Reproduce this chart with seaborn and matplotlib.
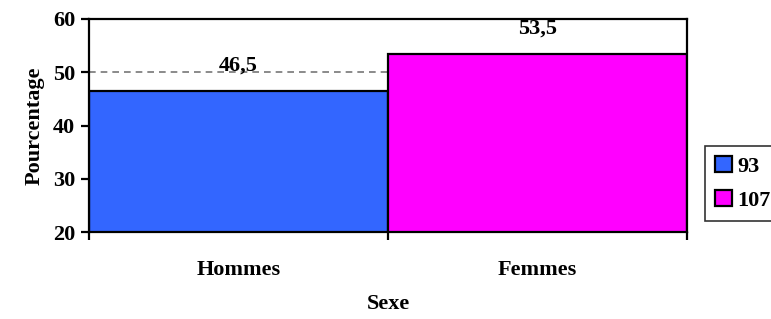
import matplotlib
matplotlib.use("Agg")
import matplotlib.pyplot as plt
import pandas as pd
import seaborn as sns

# data
sexe = ["Hommes", "Femmes"]
pourcentage = [46.5, 53.5]
effectif = ["93", "107"]
couleurs = ["#3366FF", "#FF00FF"]

sns.set_theme(style="ticks")
plt.rcParams["font.family"] = ["Liberation Serif", "DejaVu Serif"]
plt.rcParams["font.weight"] = "bold"
plt.rcParams["text.color"] = "black"
plt.rcParams["axes.labelcolor"] = "black"
plt.rcParams["xtick.color"] = "black"
plt.rcParams["ytick.color"] = "black"

df = pd.DataFrame({"Sexe": sexe, "Pourcentage": pourcentage, "n": effectif})

fig = plt.figure(figsize=(7.71, 3.19), dpi=100)
ax = fig.add_axes([89 / 771, 1 - 232 / 319, (687 - 89) / 771, (232 - 19) / 319])

sns.barplot(
    data=df, x="Sexe", y="Pourcentage", hue="n", hue_order=effectif,
    palette=couleurs, dodge=False, width=1.0, edgecolor="black",
    linewidth=1.6, saturation=1, ax=ax,
)

ax.set_ylim(20, 60)
ax.set_xlim(-0.5, 1.5)
ax.set_yticks([20, 30, 40, 50, 60])
ax.set_axisbelow(True)
ax.yaxis.grid(True, linestyle=(0, (4, 3)), color="#777777", linewidth=1.2)

for side in ["top", "right", "left", "bottom"]:
    ax.spines[side].set_visible(True)
    ax.spines[side].set_color("black")
    ax.spines[side].set_linewidth(1.6)

ax.tick_params(axis="y", length=6, width=1.6, pad=4, labelsize=16, colors="black")
ax.set_xticks([-0.5, 0.5, 1.5], minor=True)
ax.tick_params(axis="x", which="minor", length=6, width=1.6, colors="black")
ax.tick_params(axis="x", which="major", length=0, pad=20, labelsize=16, colors="black")

ax.set_xlabel("Sexe", fontsize=16, fontweight="bold", labelpad=10, color="black")
ax.set_ylabel("Pourcentage", fontsize=16, fontweight="bold", labelpad=6, color="black")

for container in ax.containers:
    ax.bar_label(container, fmt=lambda v: f"{v:.1f}".replace(".", ","),
                 padding=11, fontsize=16, fontweight="bold", color="black")

sns.move_legend(
    ax, "upper left", bbox_to_anchor=(705 / 771, 1 - 146 / 319),
    bbox_transform=fig.transFigure, title=None, frameon=True,
    fontsize=16, handlelength=0.75, handleheight=0.75, handletextpad=0.25,
    borderpad=0.45, labelspacing=0.6, borderaxespad=0, fancybox=False,
)
leg = ax.get_legend()
leg.get_frame().set_edgecolor("black")
leg.get_frame().set_linewidth(1.2)
for t in leg.get_texts():
    t.set_color("black")

fig.savefig("out.png", dpi=100)
